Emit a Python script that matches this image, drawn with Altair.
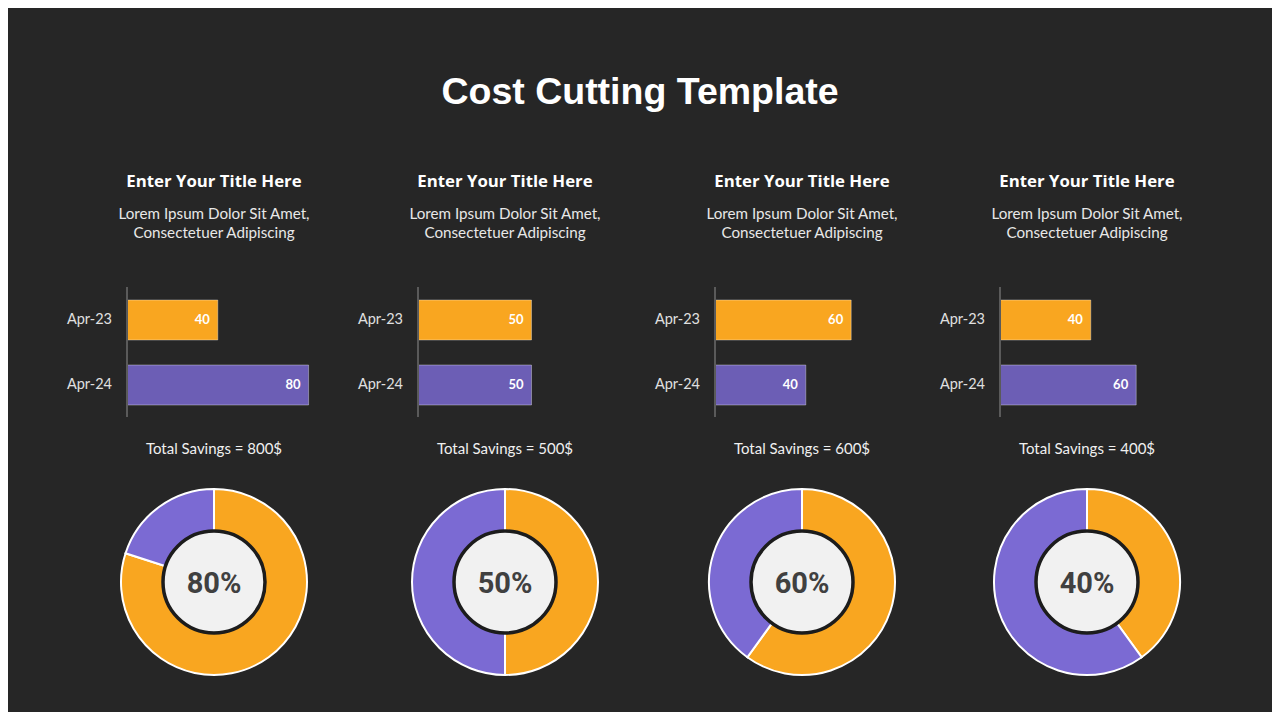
import altair as alt
import pandas as pd

# ---------------- data ----------------
main_title = "Cost Cutting Template"
panel_titles = ["Enter Your Title Here"] * 4
subtitle_line1 = ["Lorem Ipsum Dolor Sit Amet,"] * 4
subtitle_line2 = ["Consectetuer Adipiscing"] * 4
periods = ["Apr-23", "Apr-24"]
apr23_values = [40, 50, 60, 40]
apr24_values = [80, 50, 40, 60]
total_savings = [800, 500, 600, 400]
percent_saved = [80, 50, 60, 40]

# ---------------- style / layout ----------------
W, H = 1264, 704            # page is 1280x720 with 8px margin
BG = "#262626"
ORANGE = "#F9A620"
PURPLE_BAR = "#6C5EB5"
PURPLE_RING = "#7B6AD3"
TXT_FONT = "Lato"
centers = [206, 497, 794, 1079]   # panel centres (chart px)
AXIS_OFF = 87                       # axis line left of centre
BAR_SPAN = 227                      # px for 0..100
DONUT_Y = 574
R_OUT, R_IN, R_CIRCLE = 93, 50, 51


def one(text):
    return pd.DataFrame({"t": [text]})


def text_layer(text, x, y, size, weight="normal", color="white", font=TXT_FONT, dy=0):
    return alt.Chart(one(text)).mark_text(
        x=x, y=y, dy=dy, fontSize=size, fontWeight=weight, color=color, font=font,
        align="center", baseline="middle"
    ).encode(text="t:N")


layers = [text_layer(main_title, W / 2, 85, 37.5, "bold", "white", "Liberation Sans")]

for i in range(4):
    cx = centers[i]
    ax = cx - AXIS_OFF

    layers.append(text_layer(panel_titles[i], cx, 174, 16.8, "bold", "white", "Open Sans"))
    layers.append(text_layer(subtitle_line1[i], cx, 206, 15.2, "normal", "#e8e8e8"))
    layers.append(text_layer(subtitle_line2[i], cx, 225, 15.2, "normal", "#e8e8e8"))

    # ---- bar chart ----
    bdf = pd.DataFrame({"period": periods,
                        "value": [apr23_values[i], apr24_values[i]]})
    xs = alt.Scale(domain=[0, 100], range=[ax, ax + BAR_SPAN])
    ys = alt.Scale(domain=periods, range=[292, 397], paddingInner=0.385, paddingOuter=0)
    base = alt.Chart(bdf)
    bars = base.mark_bar(stroke="white", strokeOpacity=0.35, strokeWidth=1).encode(
        x=alt.X("value:Q", scale=xs, axis=None),
        y=alt.Y("period:N", scale=ys, axis=None),
        color=alt.Color("period:N", scale=alt.Scale(domain=periods, range=[ORANGE, PURPLE_BAR]),
                        legend=None),
    )
    vals = base.mark_text(align="right", baseline="middle", dx=-8, fontSize=13,
                          fontWeight="bold", color="white", font=TXT_FONT).encode(
        x=alt.X("value:Q", scale=xs, axis=None),
        y=alt.Y("period:N", scale=ys, axis=None),
        text="value:Q",
    )
    labels = base.mark_text(align="right", baseline="middle", x=ax - 15, fontSize=14.5,
                            color="#e0e0e0", font=TXT_FONT).encode(
        y=alt.Y("period:N", scale=ys, axis=None),
        text="period:N",
    )
    layers.append(alt.layer(bars, vals, labels))
    layers.append(alt.Chart(one("axis")).mark_rule(color="#5a5a5a", strokeWidth=2).encode(
        x=alt.value(ax), y=alt.value(279), y2=alt.value(409)))

    layers.append(text_layer(f"Total Savings = {total_savings[i]}$", cx, 441, 15, "normal", "#f0f0f0"))

    # ---- donut ----
    p = percent_saved[i]
    ddf = pd.DataFrame({"seg": ["saved", "rest"], "val": [p, 100 - p]})
    ring = alt.Chart(ddf).mark_arc(x=cx, y=DONUT_Y, radius=R_OUT, radius2=R_IN,
                                   stroke="white", strokeWidth=2).encode(
        theta=alt.Theta("val:Q", stack=True, scale=alt.Scale(domain=[0, 100])),
        color=alt.Color("seg:N", scale=alt.Scale(domain=["saved", "rest"],
                                                 range=[ORANGE, PURPLE_RING]), legend=None),
        order=alt.Order("seg:N", sort="descending"),
    )
    layers.append(ring)
    layers.append(alt.Chart(one("c")).mark_circle(
        size=(2 * R_CIRCLE) ** 2, color="#f1f1f1", opacity=1,
        stroke="#1c1c1c", strokeWidth=3.5).encode(
        x=alt.value(cx), y=alt.value(DONUT_Y)))
    layers.append(text_layer(f"{p}%", cx, DONUT_Y, 29, "bold", "#404040", "Roboto", dy=2))

chart = alt.layer(*layers).resolve_scale(
    x="independent", y="independent", theta="independent", color="independent"
).properties(
    width=W, height=H, padding=0, background=BG,
    autosize=alt.AutoSizeParams(type="none"),
).configure_view(stroke=None)

chart.save("out.html", embed_options={"renderer": "svg", "actions": False})
